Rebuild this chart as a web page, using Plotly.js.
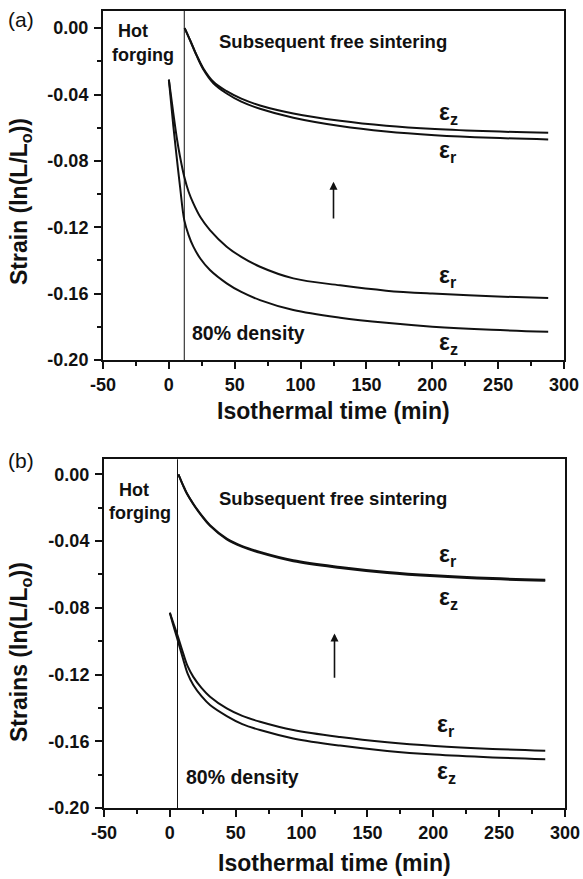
<!DOCTYPE html>
<html>
<head>
<meta charset="utf-8">
<script src="https://cdn.plot.ly/plotly-3.0.1.min.js"></script>
<style>html,body{margin:0;padding:0;background:#fff;}#chart{width:583px;height:879px;}</style>
</head>
<body>
<div id="chart"></div>
<script>
// ---------- Data ----------
// Axis ticks
const xTickVals = [-50, 0, 50, 100, 150, 200, 250, 300];
const xTickText = ['-50', '0', '50', '100', '150', '200', '250', '300'];
const yTickVals = [0, -0.04, -0.08, -0.12, -0.16, -0.20];
const yTickText = ['0.00', '-0.04', '-0.08', '-0.12', '-0.16', '-0.20'];

// Panel (a): hot forging + subsequent free sintering (lower pair)
const aLowT    = [0, 3.4, 5.9, 8.5, 11.7, 15, 18.6, 24, 31.2, 43.9, 55, 69.2, 94.5, 130, 165, 200, 245, 288];
const aLowEpsR = [-0.031, -0.0514, -0.0655, -0.0775, -0.0896, -0.0986, -0.1056, -0.1140, -0.1217, -0.1317, -0.1378, -0.1438, -0.1508, -0.1550, -0.1582, -0.1600, -0.1616, -0.1627];
const aLowEpsZ = [-0.031, -0.0590, -0.0775, -0.0956, -0.1157, -0.1247, -0.1317, -0.1390, -0.1458, -0.1538, -0.1590, -0.1639, -0.1699, -0.1745, -0.1776, -0.1799, -0.1818, -0.1830];
// Panel (a): free sintering re-plotted from zero (upper pair)
const aUpT    = [12, 16.1, 21.1, 26.2, 33.8, 43.9, 55, 69.2, 94.5, 130, 165, 202, 245, 288];
const aUpEpsZ = [0, -0.0072, -0.0163, -0.0243, -0.0323, -0.0380, -0.0425, -0.0466, -0.0514, -0.0558, -0.0588, -0.0608, -0.0622, -0.0631];
const aUpEpsR = [0, -0.0073, -0.0166, -0.0249, -0.0332, -0.0394, -0.0443, -0.0486, -0.0540, -0.0590, -0.0623, -0.0645, -0.0661, -0.0671];

// Panel (b)
const bLowT    = [0, 2.6, 5.8, 10, 13.5, 17.8, 24, 30.5, 43.2, 55, 68.5, 93.7, 129.2, 165, 201, 245, 285];
const bLowEpsR = [-0.083, -0.0890, -0.0965, -0.1070, -0.1150, -0.1214, -0.1280, -0.1333, -0.1403, -0.1448, -0.1483, -0.1533, -0.1575, -0.1606, -0.1628, -0.1646, -0.1657];
const bLowEpsZ = [-0.083, -0.0905, -0.0990, -0.1105, -0.1195, -0.1263, -0.1330, -0.1383, -0.1449, -0.1497, -0.1533, -0.1583, -0.1626, -0.1658, -0.1680, -0.1697, -0.1708];
const bUpT    = [6.5, 10, 13, 17.8, 24, 30.5, 43.2, 55, 68.5, 93.7, 129.2, 165, 201, 245, 285];
const bUpEpsR = [0, -0.0065, -0.0115, -0.0176, -0.0245, -0.0305, -0.0385, -0.0430, -0.0465, -0.0515, -0.0555, -0.0585, -0.0605, -0.0622, -0.0632];
const bUpEpsZ = [0, -0.0066, -0.0117, -0.0179, -0.0248, -0.0309, -0.0390, -0.0435, -0.0471, -0.0521, -0.0561, -0.0591, -0.0611, -0.0628, -0.0638];

// Event times (end of hot forging = 80% density)
const aForgeEnd = 11.7;
const bForgeEnd = 5.8;

// ---------- Styling ----------
const FONT = 'Liberation Sans, Arial, Helvetica, sans-serif';
const INK = '#111';
const lineStyle = {color: INK, width: 2, shape: 'spline', smoothing: 1};

function trace(x, y, xa, ya, name) {
  return {x: x, y: y, xaxis: xa, yaxis: ya, type: 'scatter', mode: 'lines', name: name,
          line: lineStyle, hoverinfo: 'skip', showlegend: false};
}

const data = [
  trace(aLowT, aLowEpsR, 'x', 'y', 'a εr'),
  trace(aLowT, aLowEpsZ, 'x', 'y', 'a εz'),
  trace(aUpT, aUpEpsZ, 'x', 'y', 'a εz free'),
  trace(aUpT, aUpEpsR, 'x', 'y', 'a εr free'),
  trace(bLowT, bLowEpsR, 'x2', 'y2', 'b εr'),
  trace(bLowT, bLowEpsZ, 'x2', 'y2', 'b εz'),
  trace(bUpT, bUpEpsR, 'x2', 'y2', 'b εr free'),
  trace(bUpT, bUpEpsZ, 'x2', 'y2', 'b εz free')
];

const tickFont = {family: FONT, size: 18, color: INK, weight: 'bold'};

function mainX(domain, anchor) {
  return {domain: domain, anchor: anchor, range: [-50, 300], tickmode: 'array',
    tickvals: xTickVals, ticktext: xTickText, ticks: 'outside', ticklen: 7, tickwidth: 2, tickcolor: INK,
    minor: {tickmode: 'linear', tick0: -25, dtick: 50, ticks: 'outside', ticklen: 4, tickwidth: 2, tickcolor: INK, showgrid: false},
    showline: true, linewidth: 2, linecolor: INK, mirror: true, showgrid: false, zeroline: false,
    tickfont: tickFont, ticklabelstandoff: 0, fixedrange: true};
}
function mainY(domain, anchor, range) {
  return {domain: domain, anchor: anchor, range: range, tickmode: 'array',
    tickvals: yTickVals, ticktext: yTickText, ticks: 'outside', ticklen: 7, tickwidth: 2, tickcolor: INK,
    minor: {tickmode: 'linear', tick0: -0.02, dtick: 0.04, ticks: 'outside', ticklen: 4, tickwidth: 2, tickcolor: INK, showgrid: false},
    showline: true, linewidth: 2, linecolor: INK, mirror: true, showgrid: false, zeroline: false,
    tickfont: tickFont, ticklabelstandoff: 2, fixedrange: true};
}
function topX(over, anchor) {
  return {overlaying: over, anchor: anchor, side: 'top', range: [-50, 300], tickmode: 'linear', tick0: 0, dtick: 25,
    ticks: 'inside', ticklen: 6, tickwidth: 2, tickcolor: INK, showticklabels: false, showgrid: false,
    zeroline: false, showline: false, fixedrange: true};
}
function rightY(over, anchor, range) {
  return {overlaying: over, anchor: anchor, side: 'right', range: range, tickmode: 'linear', tick0: 0, dtick: 0.02,
    ticks: 'inside', ticklen: 6, tickwidth: 2, tickcolor: INK, showticklabels: false, showgrid: false,
    zeroline: false, showline: false, fixedrange: true};
}

const W = 583, H = 879;
const aRange = [-0.20, 0.0105];
const bRange = [-0.20, 0.009];
const aXDom = [103 / W, 564 / W], aYDom = [1 - 360 / H, 1 - 10.7 / H];
const bXDom = [104 / W, 565 / W], bYDom = [1 - 808 / H, 1 - 459.3 / H];

function txt(text, x, y, xref, yref, size, extra) {
  return Object.assign({text: text, x: x, y: y, xref: xref, yref: yref, showarrow: false,
    font: {family: FONT, size: size, color: INK, weight: 'bold'}, xanchor: 'center', yanchor: 'middle'}, extra || {});
}
function eps(sub, x, y, xref, yref) {
  return txt('ε<sub>' + sub + '</sub>', x, y, xref, yref, 23, {xanchor: 'left'});
}
function arrow(x, yHead, yTail, xref, yref) {
  return {x: x, y: yHead, ax: x, ay: yTail, xref: xref, yref: yref, axref: xref, ayref: yref,
    text: '', showarrow: true, arrowhead: 2, arrowsize: 1, arrowwidth: 1.6, arrowcolor: INK};
}

const annotations = [
  // panel labels
  txt('(a)', 21 / W, 1 - 20 / H, 'paper', 'paper', 21, {font: {family: FONT, size: 21, color: INK}}),
  txt('(b)', 21 / W, 1 - 460 / H, 'paper', 'paper', 21, {font: {family: FONT, size: 21, color: INK}}),
  // axis titles
  txt('Strain (ln(L/L<sub>o</sub>))', 20 / W, 1 - 202 / H, 'paper', 'paper', 23, {textangle: -90}),
  txt('Strains (ln(L/L<sub>o</sub>))', 20 / W, 1 - 652 / H, 'paper', 'paper', 23, {textangle: -90}),
  txt('Isothermal time (min)', 333 / W, 1 - 411 / H, 'paper', 'paper', 23),
  txt('Isothermal time (min)', 334 / W, 1 - 863 / H, 'paper', 'paper', 23),
  // panel (a) texts
  txt('Hot', -27.6, -0.0020, 'x', 'y', 18),
  txt('forging', -19.3, -0.0163, 'x', 'y', 18),
  txt('Subsequent free sintering', 124.3, -0.0078, 'x', 'y', 18.5),
  txt('80% density', 60.1, -0.1837, 'x', 'y', 19.5),
  eps('z', 203.6, -0.0512, 'x', 'y'),
  eps('r', 203.6, -0.0745, 'x', 'y'),
  eps('r', 203.6, -0.1498, 'x', 'y'),
  eps('z', 203.6, -0.1899, 'x', 'y'),
  arrow(125, -0.0926, -0.1157, 'x', 'y'),
  // panel (b) texts
  txt('Hot', -27.2, -0.0096, 'x2', 'y2', 18),
  txt('forging', -22.7, -0.0234, 'x2', 'y2', 18),
  txt('Subsequent free sintering', 124.2, -0.0147, 'x2', 'y2', 18.5),
  txt('80% density', 54.8, -0.1814, 'x2', 'y2', 19.5),
  eps('r', 202.8, -0.0489, 'x2', 'y2'),
  eps('z', 202.8, -0.0744, 'x2', 'y2'),
  eps('r', 201.3, -0.1507, 'x2', 'y2'),
  eps('z', 201.3, -0.1788, 'x2', 'y2'),
  arrow(125, -0.0954, -0.1229, 'x2', 'y2')
];

const shapes = [
  {type: 'line', xref: 'x', yref: 'y domain', x0: aForgeEnd, x1: aForgeEnd, y0: 0, y1: 1, line: {color: INK, width: 1}},
  {type: 'line', xref: 'x2', yref: 'y2 domain', x0: bForgeEnd, x1: bForgeEnd, y0: 0, y1: 1, line: {color: INK, width: 1}}
];

const layout = {
  width: W, height: H,
  margin: {l: 0, r: 0, t: 0, b: 0, pad: 0},
  paper_bgcolor: '#fff', plot_bgcolor: '#fff',
  font: {family: FONT, color: INK},
  showlegend: false,
  xaxis: mainX(aXDom, 'y'),
  yaxis: mainY(aYDom, 'x', aRange),
  xaxis2: mainX(bXDom, 'y2'),
  yaxis2: mainY(bYDom, 'x2', bRange),
  xaxis3: topX('x', 'y'),
  yaxis3: rightY('y', 'x', aRange),
  xaxis4: topX('x2', 'y2'),
  yaxis4: rightY('y2', 'x2', bRange),
  annotations: annotations,
  shapes: shapes
};

Plotly.newPlot('chart', data, layout, {staticPlot: true, displayModeBar: false});
</script>
</body>
</html>
